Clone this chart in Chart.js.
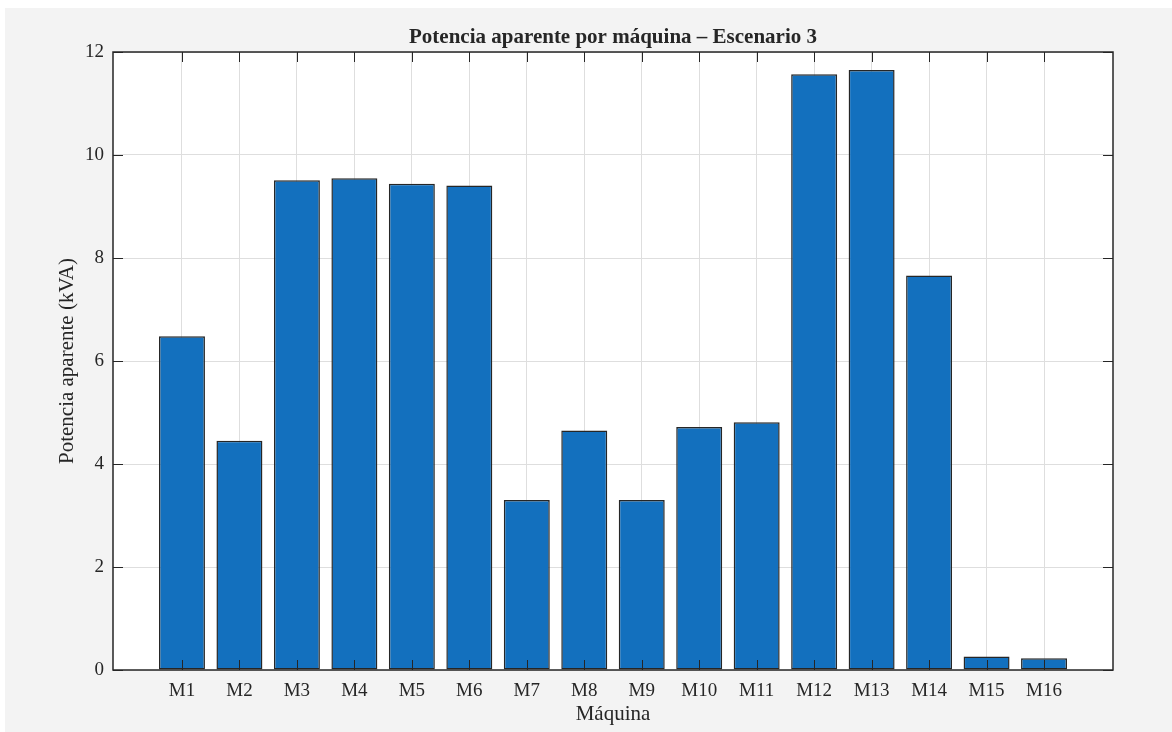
<!DOCTYPE html>
<html>
<head>
<meta charset="utf-8">
<script src="https://cdn.jsdelivr.net/npm/chart.js@4/dist/chart.umd.min.js"></script>
<style>
  html, body { margin: 0; padding: 0; background: #ffffff; }
  #wrap { position: absolute; left: 5px; top: 8px; width: 1167px; height: 724px; background: #f3f3f3; }
</style>
</head>
<body>
<div id="wrap"><canvas id="c"></canvas></div>
<script>
const categories = ['M1','M2','M3','M4','M5','M6','M7','M8','M9','M10','M11','M12','M13','M14','M15','M16'];
const potencia = [6.48, 4.45, 9.51, 9.55, 9.44, 9.41, 3.30, 4.65, 3.30, 4.72, 4.81, 11.57, 11.65, 7.66, 0.26, 0.23];
const chartTitle = 'Potencia aparente por máquina – Escenario 3';
const xLabel = 'Máquina';
const yLabel = 'Potencia aparente (kVA)';
const yMin = 0, yMax = 12, yStep = 2;

const FONT = "'Liberation Serif', 'Times New Roman', serif";
const TXT = '#262626';

const boxPlugin = {
  id: 'box',
  beforeDraw(chart) {
    const {ctx, chartArea: a} = chart;
    ctx.save();
    ctx.fillStyle = '#ffffff';
    ctx.fillRect(a.left, a.top, a.right - a.left, a.bottom - a.top);
    ctx.restore();
  },
  afterDatasetsDraw(chart) {
    const {ctx, chartArea: a, scales: {x, y}} = chart;
    const L = 10;
    ctx.save();
    ctx.strokeStyle = TXT;
    ctx.lineWidth = 1;
    ctx.beginPath();
    x.ticks.forEach(t => {
      const px = Math.round(x.getPixelForValue(t.value)) + 0.5;
      ctx.moveTo(px, a.bottom); ctx.lineTo(px, a.bottom - L);
      ctx.moveTo(px, a.top); ctx.lineTo(px, a.top + L);
    });
    y.ticks.forEach(t => {
      const py = Math.round(y.getPixelForValue(t.value)) + 0.5;
      ctx.moveTo(a.left, py); ctx.lineTo(a.left + L, py);
      ctx.moveTo(a.right, py); ctx.lineTo(a.right - L, py);
    });
    ctx.stroke();
    ctx.lineWidth = 1.5;
    ctx.strokeRect(a.left, a.top, a.right - a.left, a.bottom - a.top);
    ctx.restore();
  }
};

new Chart(document.getElementById('c'), {
  type: 'bar',
  data: {
    datasets: [{
      data: categories.map((c, i) => ({x: i + 1, y: potencia[i]})),
      backgroundColor: '#1370BE',
      borderColor: '#262626',
      borderWidth: 1.5,
      borderSkipped: false,
      barPercentage: 0.8,
      categoryPercentage: 1.0
    }]
  },
  options: {
    responsive: true,
    maintainAspectRatio: false,
    animation: false,
    layout: { padding: { left: 0, right: 59, top: 0, bottom: 0 } },
    plugins: {
      legend: { display: false },
      tooltip: { enabled: false },
      title: {
        display: true,
        fullSize: false,
        text: chartTitle,
        color: TXT,
        font: { family: FONT, size: 21, weight: 'bold', lineHeight: 1.2 },
        padding: { top: 17.4, bottom: 1.4 }
      }
    },
    scales: {
      x: {
        type: 'linear',
        offset: false,
        min: -0.2,
        max: categories.length + 1.2,
        afterBuildTicks: (scale) => { scale.ticks = categories.map((c, i) => ({value: i + 1})); },
        afterFit: (scale) => { scale.height = 62; },
        grid: { color: '#dedede', lineWidth: 1, drawTicks: false, offset: false },
        border: { display: false },
        ticks: {
          autoSkip: false,
          maxRotation: 0,
          padding: 10,
          color: TXT,
          font: { family: FONT, size: 19 },
          callback: (v) => categories[Math.round(v) - 1] || ''
        },
        title: {
          display: true,
          text: xLabel,
          color: TXT,
          font: { family: FONT, size: 21, lineHeight: 1.2 },
          padding: { top: 0, bottom: 5.4 }
        }
      },
      y: {
        min: yMin,
        max: yMax,
        afterFit: (scale) => { scale.width = 108; },
        grid: { color: '#dedede', lineWidth: 1, drawTicks: false },
        border: { display: false },
        ticks: {
          stepSize: yStep,
          padding: 9,
          color: TXT,
          font: { family: FONT, size: 19 }
        },
        title: {
          display: true,
          text: yLabel,
          color: TXT,
          font: { family: FONT, size: 21, lineHeight: 1.2 },
          padding: { top: 50, bottom: 0 }
        }
      }
    }
  },
  plugins: [boxPlugin]
});
</script>
</body>
</html>
